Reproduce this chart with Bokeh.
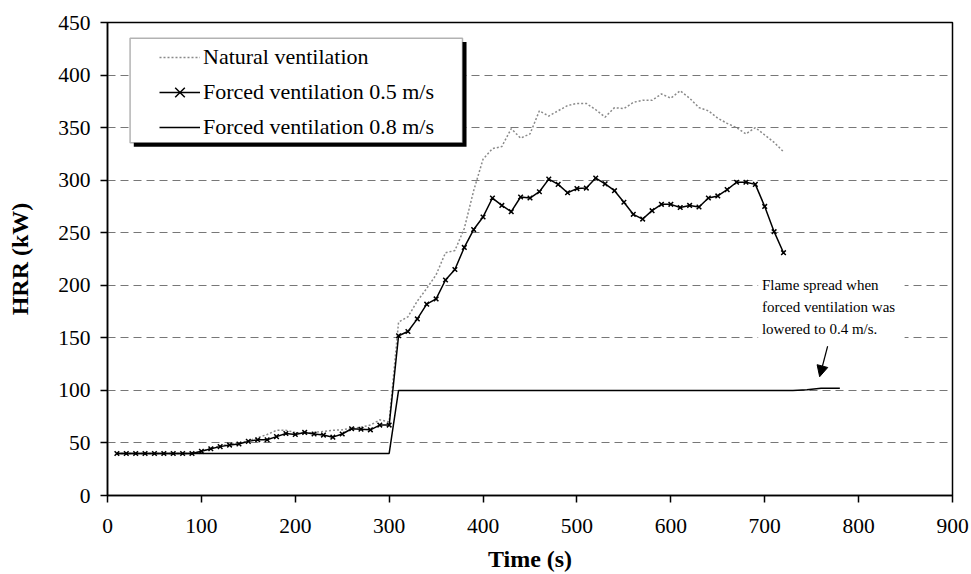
from bokeh.plotting import figure
from bokeh.models import (Range1d, SingleIntervalTicker, Legend, LegendItem,
                          BoxAnnotation, Label, Arrow, NormalHead)
from bokeh.embed import file_html
from bokeh.resources import INLINE

# ---- data ----
time_nat = list(range(10, 730, 10))
hrr_nat = [40, 40, 40, 40, 40, 40, 40, 40, 40,
           42, 45, 47, 49, 50, 52, 55, 58, 62, 62, 60, 59, 60, 61, 62, 62.5, 64, 65, 67, 72, 70,
           165, 170, 185, 197, 210, 231, 233, 254, 290, 320, 330, 332, 349, 340, 344, 366, 361,
           366, 371, 373, 373, 367, 360, 369, 368, 374, 376, 376, 382, 378, 385, 378, 369, 366,
           359, 354, 350, 344, 350, 343, 336, 327]

time_05 = list(range(10, 730, 10))
hrr_05 = [40, 40, 40, 40, 40, 40, 40, 40, 40,
          42, 44.5, 46.5, 48, 49, 51.5, 53, 53, 56, 59, 58, 60, 58.5, 57.5, 55.5, 58.5, 63.5, 63, 62.5, 67, 67,
          152, 156, 168, 182, 187, 205, 215, 236, 253, 265, 283, 276, 270, 284, 283, 289, 301,
          296, 288, 292, 292.5, 302, 296.5, 290, 279, 267.5, 263, 271, 277, 277, 274, 276, 274.5,
          283, 285, 291, 298, 298, 296, 275, 251, 231]

time_08 = [10, 300, 310, 730, 745, 760, 780]
hrr_08 = [40, 40, 100, 100, 100.5, 102, 102]

labels = ["Natural ventilation", "Forced ventilation 0.5 m/s", "Forced ventilation 0.8 m/s"]
note_lines = ["Flame spread when", "forced ventilation was", "lowered to 0.4 m/s."]

FONT = "Liberation Serif"

p = figure(width=971, height=574, x_range=Range1d(0, 900), y_range=Range1d(0, 450),
           output_backend="svg", toolbar_location=None,
           min_border_left=107, min_border_right=19, min_border_top=22, min_border_bottom=79)
p.background_fill_color = "white"
p.border_fill_color = "white"
p.outline_line_color = "black"
p.outline_line_width = 1.5

p.xaxis.ticker = SingleIntervalTicker(interval=100)
p.yaxis.ticker = SingleIntervalTicker(interval=50)
for ax in (p.xaxis, p.yaxis):
    ax.axis_line_color = "black"
    ax.axis_line_width = 1.5
    ax.major_tick_line_color = "black"
    ax.major_tick_line_width = 1.5
    ax.major_tick_out = 7
    ax.major_tick_in = 0
    ax.minor_tick_out = 0
    ax.minor_tick_in = 0
    ax.major_label_text_font = FONT
    ax.major_label_text_font_size = "21.5px"
    ax.major_label_text_color = "black"
    ax.axis_label_text_font = FONT
    ax.axis_label_text_font_size = "24px"
    ax.axis_label_text_font_style = "bold"
    ax.axis_label_text_color = "black"
p.xaxis.axis_label = "Time (s)"
p.yaxis.axis_label = "HRR (kW)"
p.xaxis.major_label_standoff = 16
p.yaxis.major_label_standoff = 10
p.xaxis.axis_label_standoff = 10
p.yaxis.axis_label_standoff = 22

p.xgrid.grid_line_color = None
p.ygrid.grid_line_color = "#777777"
p.ygrid.grid_line_dash = "8 5"
p.ygrid.grid_line_width = 1

r_nat = p.line(time_nat, hrr_nat, line_color="#8a8a8a", line_width=1.5, line_dash="2 2")
r_08 = p.line(time_08, hrr_08, line_color="black", line_width=1.5)
r_05 = p.line(time_05, hrr_05, line_color="black", line_width=1.5)
r_05m = p.scatter(time_05, hrr_05, marker="x", size=6.5, line_color="black", line_width=1.5)

# annotation background & text
p.add_layout(BoxAnnotation(left=693, right=849, bottom=147, top=211,
                           fill_color="white", fill_alpha=1, line_alpha=0))
for i, t in enumerate(note_lines):
    p.add_layout(Label(x=697, y=200 - i * 21, text=t, text_baseline="middle",
                       text_font=FONT, text_font_size="15px", text_color="black"))
p.add_layout(Arrow(end=NormalHead(size=11, fill_color="black", line_color="black"),
                   x_start=767, y_start=142, x_end=758.5, y_end=113,
                   line_color="black", line_width=1.2))

# legend box with shadow
p.add_layout(BoxAnnotation(left=28.0, right=382.4, bottom=331.9, top=431.4,
                           fill_color="black", fill_alpha=1, line_alpha=0))
p.add_layout(BoxAnnotation(left=24.05, right=378.1, bottom=335.7, top=434.95,
                           fill_color="white", fill_alpha=1, line_color="black", line_width=1.5))

legend = Legend(items=[LegendItem(label=labels[0], renderers=[r_nat]),
                       LegendItem(label=labels[1], renderers=[r_05, r_05m]),
                       LegendItem(label=labels[2], renderers=[r_08])],
                location=(52, 351), border_line_alpha=0, background_fill_alpha=0,
                padding=0, margin=0, spacing=1, glyph_width=41, glyph_height=34,
                label_height=34, label_standoff=3,
                label_text_font=FONT, label_text_font_size="22px", label_text_color="black")
p.add_layout(legend)

open("out.html", "w").write(file_html(p, INLINE))
